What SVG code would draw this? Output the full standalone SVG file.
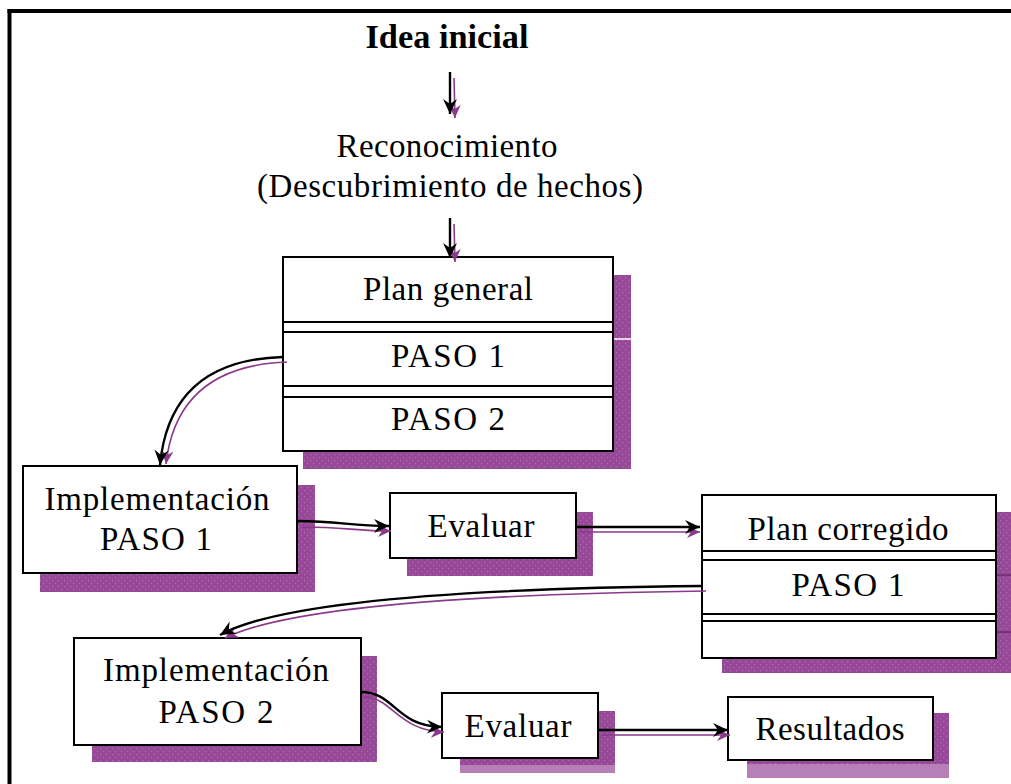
<svg xmlns="http://www.w3.org/2000/svg" width="1011" height="784" viewBox="0 0 1011 784">
<defs>
<style>
.t{font-family:"Liberation Serif","Times New Roman",serif;font-size:33px;fill:#000;text-anchor:middle}
.b{font-weight:bold}
.box{fill:#fff;stroke:#000;stroke-width:2}
.sh{fill:url(#dots)}
.sep{stroke:#000;stroke-width:2;fill:none}
.ak{fill:none;stroke:#000;stroke-width:2.4;marker-end:url(#hk)}
.ap{fill:none;stroke:#8a3a8a;stroke-width:1.6;marker-end:url(#hp)}
</style>
<pattern id="dots" width="6" height="6" patternUnits="userSpaceOnUse">
<rect width="6" height="6" fill="#974997"/>
<rect x="1" y="1" width="1.2" height="1.2" fill="#b06eb0"/>
<rect x="4" y="4" width="1.2" height="1.2" fill="#b06eb0"/>
</pattern>
<marker id="hk" markerUnits="userSpaceOnUse" markerWidth="16" markerHeight="16" refX="15" refY="7" orient="auto" viewBox="0 0 16 14">
<path d="M0,0 L15,7 L0,14 L5,7 Z" fill="#000"/>
</marker>
<marker id="hp" markerUnits="userSpaceOnUse" markerWidth="14" markerHeight="14" refX="13" refY="6" orient="auto" viewBox="0 0 14 12">
<path d="M0,0 L13,6 L0,12 L4,6 Z" fill="#8a3a8a"/>
</marker>
</defs>
<rect width="1011" height="784" fill="#fff"/>
<g id="frame">
<line x1="7.5" y1="11" x2="1011" y2="11" stroke="#000" stroke-width="4"/>
<line x1="9.5" y1="9" x2="9.5" y2="784" stroke="#000" stroke-width="4"/>
</g>
<g id="idea"><text class="t b" x="447" y="48" textLength="163" lengthAdjust="spacingAndGlyphs">Idea inicial</text></g>
<g id="reconocimiento">
<text class="t" x="447" y="157" textLength="221" lengthAdjust="spacing">Reconocimiento</text>
<text class="t" x="450" y="197" textLength="386" lengthAdjust="spacing">(Descubrimiento de hechos)</text>
</g>
<g id="plan-general">
<rect class="sh" x="303" y="275" width="328" height="194"/>
<line x1="613" y1="339" x2="631" y2="339" stroke="#fff" stroke-width="1.5"/>
<rect class="box" x="283" y="257" width="330" height="194"/>
<path class="sep" d="M283,322H613M283,332H613M283,386H613M283,397H613"/>
<text class="t" x="448" y="300" textLength="170" lengthAdjust="spacing">Plan general</text>
<text class="t" x="448" y="367" textLength="114" lengthAdjust="spacing">PASO 1</text>
<text class="t" x="448" y="430" textLength="114" lengthAdjust="spacing">PASO 2</text>
</g>
<g id="impl1">
<rect class="sh" x="40" y="485" width="275" height="107"/>
<rect class="box" x="23" y="466" width="274" height="107"/>
<text class="t" x="157" y="510" textLength="225" lengthAdjust="spacing">Implementación</text>
<text class="t" x="156" y="550" textLength="112" lengthAdjust="spacing">PASO 1</text>
</g>
<g id="evaluar1">
<rect class="sh" x="407" y="512" width="186" height="64"/>
<rect class="box" x="390" y="493" width="186" height="65"/>
<text class="t" x="481" y="537" textLength="107" lengthAdjust="spacing">Evaluar</text>
</g>
<g id="plan-corregido">
<rect class="sh" x="722" y="512" width="292" height="161"/>
<path d="M996,575H1011M996,632H1011" stroke="#6a2a6a" stroke-width="1.5"/>
<rect class="box" x="702" y="495" width="294" height="163"/>
<path class="sep" d="M702,551H996M702,560H996M702,614H996M702,621H996"/>
<text class="t" x="848" y="540" textLength="201" lengthAdjust="spacing">Plan corregido</text>
<text class="t" x="848" y="596" textLength="113" lengthAdjust="spacing">PASO 1</text>
</g>
<g id="impl2">
<rect class="sh" x="92" y="656" width="285" height="106"/>
<rect class="box" x="74" y="638" width="287" height="107"/>
<text class="t" x="216" y="681" textLength="226" lengthAdjust="spacing">Implementación</text>
<text class="t" x="216" y="723" textLength="115" lengthAdjust="spacing">PASO 2</text>
</g>
<g id="evaluar2">
<rect class="sh" x="460" y="711" width="155" height="62"/>
<rect x="460" y="765" width="155" height="8" fill="#b77fb7"/>
<rect class="box" x="442" y="693" width="156" height="65"/>
<text class="t" x="518" y="737" textLength="107" lengthAdjust="spacing">Evaluar</text>
</g>
<g id="resultados">
<rect class="sh" x="747" y="713" width="202" height="65"/>
<rect x="747" y="764" width="202" height="14" fill="#b77fb7"/>
<rect class="box" x="728" y="697" width="205" height="63"/>
<text class="t" x="830" y="740" textLength="149" lengthAdjust="spacing">Resultados</text>
</g>
<g id="connectors">
<path class="ap" d="M454,78 L455,118"/>
<path class="ak" d="M450,72 L450,114"/>
<path class="ap" d="M454,224 L455,262"/>
<path class="ak" d="M450,218 L450,258"/>
<path class="ap" d="M287,362 Q177,366 166,464"/>
<path class="ak" d="M283,357 Q170,360 160,465"/>
<path class="ap" d="M302,527 C345,527 355,531 391,531"/>
<path class="ak" d="M297,521 C340,521 350,526 389,526"/>
<path class="ap" d="M580,532 L700,532"/>
<path class="ak" d="M576,527 L700,527"/>
<path class="ap" d="M706,591 Q310,596 225,638"/>
<path class="ak" d="M702,586 Q300,590 220,635"/>
<path class="ap" d="M364,697 C392,697 398,731 444,732"/>
<path class="ak" d="M361,692 C395,692 395,726 442,727"/>
<path class="ap" d="M602,735 L730,735"/>
<path class="ak" d="M598,730 L728,730"/>
</g>
</svg>
